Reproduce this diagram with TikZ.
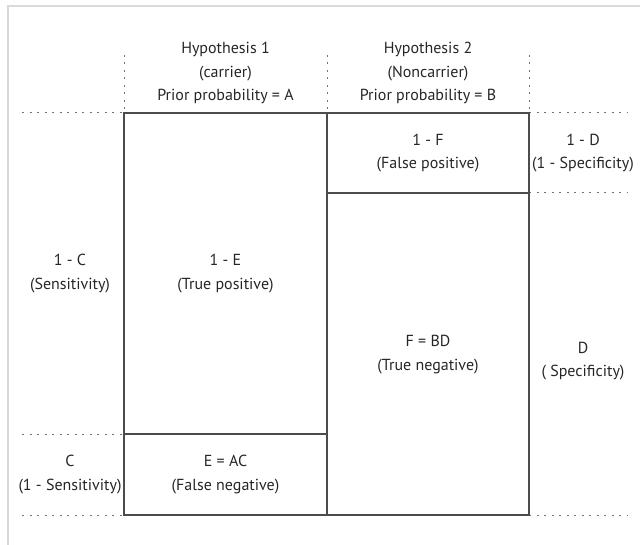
\documentclass[tikz,border=0pt]{standalone}
\usepackage{fontspec}
\setmainfont{PT Sans}
\usetikzlibrary{positioning}

\begin{document}
\begin{tikzpicture}[
		x=1pt, y=-1pt,
		% styles du tableau
		frameLine/.style={draw=black!15, line width=2pt},
		boxLine/.style={draw=black!70, line width=1.3pt},
		dotLine/.style={draw=black!55, line width=1pt, dash pattern=on 2pt off 5.5pt},
		cellText/.style={align=center, text=black!85, inner sep=0pt, font=\fontsize{16}{23.5}\selectfont},
		]
		
		\useasboundingbox (0,0) rectangle (640,545);
		\draw[frameLine] (640,6) -- (8,6) -- (8,545);
		
		% coins du tableau
		\coordinate (tl) at (124,113);
		\coordinate (tm) at (327,113);
		\coordinate (tr) at (529,113);
		\coordinate (bl) at (124,515);
		\coordinate (bm) at (327,515);
		\coordinate (br) at (529,515);
		\coordinate (ml) at (124,434);
		\coordinate (mm) at (327,434);
		\coordinate (rm) at (327,193);
		\coordinate (rr) at (529,193);
		
		% extremites des pointilles
		\coordinate (h1) at (124,55);
		\coordinate (h2) at (327,55);
		\coordinate (h3) at (529,55);
		\coordinate (gA) at (22,113);
		\coordinate (gB) at (22,434);
		\coordinate (gC) at (22,515);
		\coordinate (dA) at (628,113);
		\coordinate (dB) at (628,193);
		\coordinate (dC) at (628,515);
		
		
		\draw[dotLine] (h1) -- (tl);
		\draw[dotLine] (h2) -- (tm);
		\draw[dotLine] (h3) -- (tr);
		\draw[dotLine] (gA) -- (tl);
		\draw[dotLine] (gB) -- (ml);
		\draw[dotLine] (gC) -- (bl);
		\draw[dotLine] (tr) -- (dA);
		\draw[dotLine] (rr) -- (dB);
		\draw[dotLine] (br) -- (dC);
		
		
		\draw[boxLine] (tl) -- (tr) -- (br) -- (bl) -- cycle;
		\draw[boxLine] (tm) -- (bm);
		\draw[boxLine] (ml) -- (mm);
		\draw[boxLine] (rm) -- (rr);
		
		
		\node[cellText] (hyp1) at (225.5,73) {Hypothesis 1\\(carrier)\\Prior probability = A};
		\node[cellText] (hyp2) at (428,73) {Hypothesis 2\\(Noncarrier)\\Prior probability = B};
		
		\node[cellText] (sensitivite) at (70,273.5) {1 - C\\(Sensitivity)};
		\node[cellText] (nonSens) at (70,474.5) {C\\(1 - Sensitivity)};
		\node[cellText] (vraiPos) at (225.5,273.5) {1 - E\\(True positive)};
		\node[cellText] (fauxNeg) at (225.5,474.5) {E = AC\\(False negative)};
		\node[cellText] (fauxPos) at (428,153) {1 - F\\(False positive)};
		\node[cellText] (vraiNeg) at (428,354.5) {F = BD\\(True negative)};
		\node[cellText] (nonSpec) at (583,153) {1 - D\\(1 - Specificity)};
		\node[cellText] (specificite) at (583,361) {D\\( Specificity)};
		
	\end{tikzpicture}
\end{document}
